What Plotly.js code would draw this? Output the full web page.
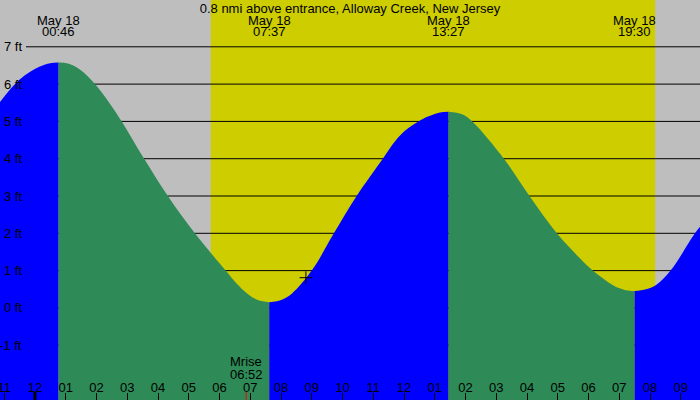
<!DOCTYPE html>
<html>
<head>
<meta charset="utf-8">
<script src="https://cdn.plot.ly/plotly-3.0.1.min.js"></script>
<style>
  html, body { margin: 0; padding: 0; background: #bebebe; }
  #chart { width: 700px; height: 400px; }
</style>
</head>
<body>
<div id="chart"></div>
<script>
// tide curve: hours after midnight May 18, height in ft
const tideHours = [-1.14, -0.49, 0.16, 0.49, 0.767, 1.07, 1.46, 1.95, 2.44, 2.82, 3.55, 4.32, 5.20, 6.20, 6.54, 6.94, 7.25, 7.617,
  8.03, 8.35, 9.00, 9.72, 10.46, 11.31, 11.71, 12.03, 12.47, 12.78, 13.17, 13.45, 13.89, 14.22, 15.25, 16.08, 16.97, 17.72, 18.14,
  18.81, 19.15, 19.50, 19.87, 20.22, 20.67, 21.46, 21.63];
const tideFeet = [5.52, 6.13, 6.47, 6.56, 6.58, 6.55, 6.39, 6.00, 5.47, 5.00, 4.00, 3.00, 2.00, 1.00, 0.67, 0.36, 0.21, 0.15,
  0.22, 0.38, 1.00, 2.00, 3.00, 4.00, 4.47, 4.75, 5.00, 5.13, 5.24, 5.26, 5.19, 5.00, 4.00, 3.00, 2.00, 1.33, 1.00,
  0.60, 0.49, 0.45, 0.50, 0.63, 1.00, 2.00, 2.18];

const extremeDate = 'May 18';
const extremeTimes = ['00:46', '07:37', '13:27', '19:30'];

const sunTimes = ['05:43', '20:10'];
const moonriseTime = '06:52';
const nowHour = 8.81, nowFeet = 0.81;

const feetTicks = [-1, 0, 1, 2, 3, 4, 5, 6, 7];
const hourTicks = [-1, 0, 1, 2, 3, 4, 5, 6, 7, 8, 9, 10, 11, 12, 13, 14, 15, 16, 17, 18, 19, 20, 21];
const hourLabels = ['11', '12', '01', '02', '03', '04', '05', '06', '07', '08', '09', '10',
  '11', '12', '01', '02', '03', '04', '05', '06', '07', '08', '09'];

const title = '0.8 nmi above entrance, Alloway Creek, New Jersey';

const toHours = s => { const p = s.split(':').map(Number); return p[0] + p[1] / 60; };

const xRange = [-1.138, 21.626];
const yRange = [-2.469, 8.255];
const FONT = { family: 'Liberation Sans, Arial, sans-serif', size: 13, color: 'black' };

// split the curve at each high / low
let cuts = [0];
for (let t of extremeTimes) {
  let h = toHours(t);
  let i = tideHours.findIndex(v => Math.abs(v - h) < 0.02);
  if (i > 0) cuts.push(i);
}
cuts.push(tideHours.length - 1);

let traces = [];
for (let k = 0; k < cuts.length - 1; k++) {
  let xs = tideHours.slice(cuts[k], cuts[k + 1] + 1);
  let ys = tideFeet.slice(cuts[k], cuts[k + 1] + 1);
  if (xs.length < 2) continue;
  let col = ys[ys.length - 1] > ys[0] ? '#0000ff' : '#2e8b57';
  traces.push({
    x: [xs[0], xs[xs.length - 1]], y: [yRange[0] - 1, yRange[0] - 1],
    mode: 'lines', line: { width: 0 }, hoverinfo: 'skip', showlegend: false
  });
  traces.push({
    x: xs, y: ys, mode: 'lines', line: { width: 0, shape: 'spline', smoothing: 1, color: col },
    fill: 'tonexty', fillcolor: col, hoverinfo: 'skip', showlegend: false
  });
}
traces.push({
  x: [nowHour], y: [nowFeet], mode: 'markers',
  marker: { symbol: 'cross-thin', size: 9, line: { width: 1, color: 'black' } },
  showlegend: false, hoverinfo: 'skip'
});

let shapes = [{
  type: 'rect', xref: 'x', yref: 'paper', x0: toHours(sunTimes[0]), x1: toHours(sunTimes[1]),
  y0: 0, y1: 1, fillcolor: '#cdcd00', line: { width: 0 }, layer: 'below'
}];
for (let f of feetTicks) {
  shapes.push({
    type: 'line', xref: 'paper', x0: 26 / 700, x1: 1, yref: 'y', y0: f, y1: f,
    line: { color: 'black', width: 1 }, layer: 'below'
  });
}
// midnight tick and moonrise tick
shapes.push({
  type: 'line', xref: 'x', x0: 0, x1: 0, yref: 'paper', ysizemode: 'pixel', yanchor: 0,
  y0: 0, y1: 8, line: { color: 'black', width: 3 }
});
shapes.push({
  type: 'line', xref: 'x', x0: toHours(moonriseTime), x1: toHours(moonriseTime), yref: 'paper',
  ysizemode: 'pixel', yanchor: 0, y0: 0, y1: 8, line: { color: 'red', width: 1 }
});

let annotations = [];
for (let f of feetTicks) {
  annotations.push({
    xref: 'paper', x: 24 / 700, xanchor: 'right', yref: 'y', y: f, yanchor: 'middle',
    text: f + ' ft', showarrow: false, font: FONT
  });
}
for (let t of extremeTimes) {
  annotations.push({
    xref: 'x', x: toHours(t), yref: 'paper', y: 1 - 20 / 400, yanchor: 'middle',
    text: extremeDate, showarrow: false, font: FONT
  });
  annotations.push({
    xref: 'x', x: toHours(t), yref: 'paper', y: 1 - 32 / 400, yanchor: 'middle',
    text: t, showarrow: false, font: FONT
  });
}
annotations.push({
  xref: 'x', x: toHours(moonriseTime), yref: 'paper', y: 39 / 400, yanchor: 'middle',
  text: 'Mrise', showarrow: false, font: FONT
});
annotations.push({
  xref: 'x', x: toHours(moonriseTime), yref: 'paper', y: 26 / 400, yanchor: 'middle',
  text: moonriseTime, showarrow: false, font: FONT
});

let layout = {
  width: 700, height: 400,
  margin: { l: 0, r: 0, t: 0, b: 0 },
  paper_bgcolor: '#bebebe', plot_bgcolor: '#bebebe',
  font: FONT,
  title: { text: title, x: 0.5, xanchor: 'center', y: 1 - 8 / 400, yanchor: 'middle', yref: 'container', font: FONT },
  showlegend: false,
  xaxis: {
    range: xRange, tickvals: hourTicks, ticktext: hourLabels,
    ticks: 'inside', ticklen: 7, tickwidth: 1, tickcolor: 'black',
    ticklabelposition: 'inside', ticklabeloverflow: 'allow', ticklabelstandoff: -2,
    tickfont: FONT,
    showgrid: false, zeroline: false, showline: false, fixedrange: true
  },
  yaxis: {
    range: yRange, showticklabels: false, ticks: '',
    showgrid: false, zeroline: false, showline: false, fixedrange: true
  },
  shapes: shapes,
  annotations: annotations
};

Plotly.newPlot('chart', traces, layout, { displayModeBar: false, staticPlot: true });
</script>
</body>
</html>
